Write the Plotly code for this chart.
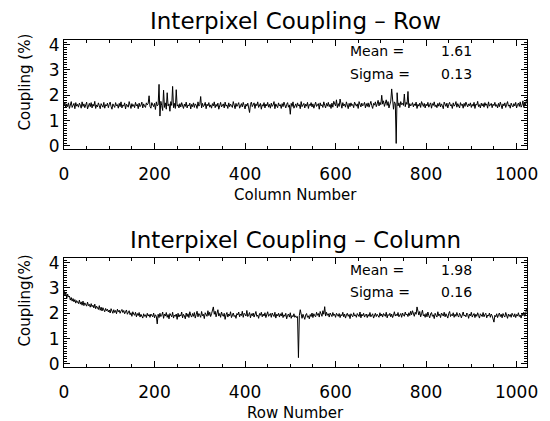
import plotly.graph_objects as go

W, H = 550, 421

# Column / row numbers (every second pixel)
cols = list(range(0, 1024, 2))

# Interpixel coupling along rows, in hundredths of a percent
row_coupling_c = [
158,172,150,166,155,170,148,163,175,152,160,168,147,171,157,164,
153,169,161,149,174,156,166,151,162,173,146,159,168,155,171,150,
165,157,176,148,162,154,170,159,147,167,161,153,172,149,163,158,
169,151,164,173,156,145,166,160,152,171,158,163,149,168,155,174,
150,162,157,170,146,165,159,153,175,161,148,167,156,163,151,172,
158,164,147,169,155,161,173,150,166,157,152,170,162,168,198,156,
149,171,163,155,168,144,174,158,162,243,118,176,159,140,220,152,
170,145,210,158,166,137,175,160,235,151,168,148,222,157,163,150,
167,154,171,159,148,165,156,173,150,162,158,169,146,164,155,170,
152,166,161,148,174,157,163,195,150,168,155,160,172,147,165,158,
171,153,162,149,167,158,174,151,164,156,169,145,163,172,154,160,
166,150,173,157,162,148,170,155,165,159,152,175,161,147,168,156,
163,171,149,158,167,154,172,160,146,165,157,169,151,132,164,173,
155,162,170,148,166,159,174,152,161,168,145,163,157,171,150,165,
158,172,153,164,149,169,156,162,175,147,166,160,151,170,158,163,
148,167,155,173,159,150,164,171,153,162,125,168,156,174,149,161,
166,152,170,158,163,147,175,155,161,168,150,165,157,172,148,164,
159,171,154,166,149,162,173,156,160,167,145,170,158,163,152,174,
161,150,168,157,172,155,164,148,169,153,176,162,158,182,151,167,
156,185,160,149,171,158,165,153,174,162,147,168,155,170,159,164,
151,173,162,157,166,148,175,160,154,169,158,163,172,150,167,156,
170,153,164,176,159,148,168,161,174,155,166,180,158,172,163,200,
165,178,156,170,182,160,175,150,168,177,225,162,145,174,168,10,
210,158,170,152,175,163,168,160,205,155,172,164,215,150,167,158,
162,171,154,166,159,173,148,164,157,169,152,175,161,156,168,150,
165,158,172,153,163,170,149,167,160,174,155,162,151,168,157,171,
154,166,159,147,173,161,156,169,150,164,172,158,163,148,170,157,
162,175,153,167,158,150,171,160,165,149,168,156,173,161,154,166,
159,170,152,164,157,172,148,165,161,176,155,163,150,169,158,167,
153,171,160,166,149,174,157,162,168,151,165,159,172,156,163,150,
168,155,173,161,147,166,158,170,152,164,175,157,162,149,169,160,
154,167,158,172,150,163,169,156,174,153,161,178,152,170,162,185,
]

# Interpixel coupling along columns, in hundredths of a percent
col_coupling_c = [
292,270,283,258,276,264,268,252,262,248,258,245,254,240,250,246,
238,252,236,245,232,248,230,241,236,228,244,230,235,224,238,226,
232,221,236,218,228,222,215,230,212,224,209,222,214,206,219,210,
216,205,213,201,218,207,200,214,203,211,198,216,206,212,200,209,
215,203,211,198,207,213,196,205,210,194,202,188,206,197,192,204,
186,199,191,203,185,196,190,181,198,188,194,183,200,189,195,184,
197,190,186,201,182,194,188,158,196,183,200,187,192,205,180,197,
189,203,184,195,178,199,191,186,204,181,193,188,197,176,200,185,
194,189,205,182,196,190,178,201,187,198,183,206,192,185,199,188,
203,181,195,208,186,199,192,184,207,190,196,179,202,193,188,210,
191,204,187,198,212,225,196,208,186,201,214,189,199,184,205,193,
188,200,176,194,203,185,197,190,206,183,195,201,187,192,180,199,
193,205,186,197,191,208,184,200,196,189,211,187,194,203,182,198,
190,201,185,196,207,188,193,180,199,192,204,186,197,189,202,183,
195,206,188,192,199,184,201,193,187,204,181,196,190,200,185,198,
189,203,183,194,188,200,178,192,197,185,202,180,191,186,198,184,
190,183,187,25,192,214,185,180,196,188,176,193,199,184,190,178,
195,187,201,183,198,190,186,204,192,199,185,207,193,188,210,196,
226,189,204,192,198,185,201,194,187,203,191,196,184,200,193,188,
199,183,195,190,204,186,197,181,193,200,188,195,179,198,191,186,
202,189,194,184,199,191,187,205,182,196,190,200,185,193,197,183,
195,188,203,186,192,198,181,194,200,187,196,190,184,202,189,197,
185,199,193,188,204,182,195,191,200,186,197,183,192,206,189,196,
190,203,186,195,199,184,201,192,188,205,193,197,187,202,191,208,
194,210,199,188,204,196,225,201,193,207,186,198,212,190,195,184,
199,186,205,191,182,197,203,188,194,179,200,192,185,206,190,196,
183,201,193,189,204,186,198,192,181,199,207,187,195,190,202,184,
196,188,203,191,185,200,194,182,198,205,189,193,186,201,195,180,
197,190,204,185,193,199,183,196,188,202,191,181,198,194,187,203,
186,195,200,182,193,189,201,184,197,190,179,165,192,186,198,183,
194,201,187,196,182,199,190,185,203,192,180,197,188,195,184,200,
191,186,198,183,195,189,202,187,193,181,199,190,204,188,196,220,
]

row_coupling = [v / 100 for v in row_coupling_c]
col_coupling = [v / 100 for v in col_coupling_c]

titles = ["Interpixel Coupling \u2013 Row", "Interpixel Coupling \u2013 Column"]
xtitles = ["Column Number", "Row Number"]
ytitles = ["Coupling (%)", "Coupling(%)"]
means = ["1.61", "1.98"]
sigmas = ["0.13", "0.16"]
x_ticks = [0, 200, 400, 600, 800, 1000]
y_ticks = [0, 1, 2, 3, 4]

FONT = "DejaVu Sans"

def px(x):
    return x / W

def py(y):
    return 1 - y / H

# pixel boxes of the two panels: (left, right, top, bottom)
boxes = [(64, 527, 39.5, 148.5), (64, 527, 257.5, 366.5)]

fig = go.Figure()
fig.add_trace(go.Scatter(x=cols, y=row_coupling, mode="lines",
                         line=dict(color="black", width=1), xaxis="x", yaxis="y"))
fig.add_trace(go.Scatter(x=cols, y=col_coupling, mode="lines",
                         line=dict(color="black", width=1), xaxis="x2", yaxis="y2"))

def xaxis_cfg(box, anchor):
    l, r, t, b = box
    return dict(domain=[px(l), px(r)], anchor=anchor, range=[0, 1023], automargin=False,
                tickvals=x_ticks, ticks="inside", ticklen=6, tickcolor="black",
                showline=True, linecolor="black", linewidth=1, mirror="allticks",
                showgrid=False, zeroline=False,
                tickfont=dict(family=FONT, size=17, color="black"),
                ticklabelstandoff=10,
                minor=dict(dtick=50, ticks="inside", ticklen=3, tickcolor="black", showgrid=False))

def yaxis_cfg(box, anchor):
    l, r, t, b = box
    return dict(domain=[py(b), py(t)], anchor=anchor, range=[-0.1, 4.2], automargin=False,
                tickvals=y_ticks, ticks="inside", ticklen=6, tickcolor="black",
                showline=True, linecolor="black", linewidth=1, mirror="allticks",
                showgrid=False, zeroline=False,
                tickfont=dict(family=FONT, size=17, color="black"),
                ticklabelstandoff=0,
                minor=dict(dtick=0.1, ticks="inside", ticklen=3, tickcolor="black", showgrid=False))

annotations = []
for i, box in enumerate(boxes):
    l, r, t, b = box
    cx = (l + r) / 2
    annotations.append(dict(text=titles[i], x=px(cx), y=py(t - 18), xref="paper", yref="paper",
                            xanchor="center", yanchor="middle", showarrow=False,
                            font=dict(family=FONT, size=23, color="black")))
    annotations.append(dict(text=xtitles[i], x=px(cx), y=py(b + 46), xref="paper", yref="paper",
                            xanchor="center", yanchor="middle", showarrow=False,
                            font=dict(family=FONT, size=15, color="black")))
    annotations.append(dict(text=ytitles[i], x=px(24), y=py(t + 43), xref="paper", yref="paper",
                            xanchor="center", yanchor="middle", showarrow=False, textangle=-90,
                            font=dict(family=FONT, size=15, color="black")))
    annotations.append(dict(text="Mean =", x=px(348), y=py(t + 12), xref="paper", yref="paper",
                            xanchor="left", yanchor="middle", showarrow=False,
                            font=dict(family=FONT, size=14, color="black")))
    annotations.append(dict(text=means[i], x=px(474), y=py(t + 12), xref="paper", yref="paper",
                            xanchor="right", yanchor="middle", showarrow=False,
                            font=dict(family=FONT, size=14, color="black")))
    annotations.append(dict(text="Sigma =", x=px(348), y=py(t + 34), xref="paper", yref="paper",
                            xanchor="left", yanchor="middle", showarrow=False,
                            font=dict(family=FONT, size=14, color="black")))
    annotations.append(dict(text=sigmas[i], x=px(474), y=py(t + 34), xref="paper", yref="paper",
                            xanchor="right", yanchor="middle", showarrow=False,
                            font=dict(family=FONT, size=14, color="black")))

fig.update_layout(
    width=W, height=H,
    margin=dict(l=0, r=0, t=0, b=0),
    paper_bgcolor="white", plot_bgcolor="white",
    showlegend=False,
    xaxis=xaxis_cfg(boxes[0], "y"),
    yaxis=yaxis_cfg(boxes[0], "x"),
    xaxis2=xaxis_cfg(boxes[1], "y2"),
    yaxis2=yaxis_cfg(boxes[1], "x2"),
    annotations=annotations,
)

fig.write_html("out.html", config={"displayModeBar": False},
               post_script="document.body.style.margin='0';document.body.style.overflow='hidden';")
